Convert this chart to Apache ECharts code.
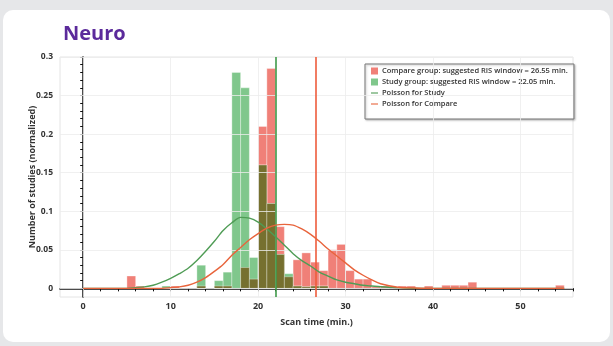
<!DOCTYPE html>
<html><head><meta charset="utf-8">
<script src="https://cdn.jsdelivr.net/npm/echarts@6/dist/echarts.min.js"></script>
<style>html,body{margin:0;padding:0;background:#e6e7e9}#c{width:613px;height:346px}</style>
</head><body><div id="c"></div>
<script>
// Histogram bins: left edge of each 1-minute bin
const binLeft = [0,1,2,3,4,5,6,7,8,9,10,11,12,13,14,15,16,17,18,19,20,21,22,23,24,25,26,27,28,29,30,31,32,33,34,35,36,37,38,39,40,41,42,43,44,45,46,47,48,49,50,51,52,53,54,55];
const compareValues = [0,0,0,0,0,0.016,0.003,0,0,0,0.003,0,0,0.003,0,0.003,0.003,0,0.027,0.012,0.21,0.285,0.08,0.015,0.037,0.046,0.034,0.023,0.05,0.057,0.023,0.012,0.012,0.002,0.003,0,0.003,0.003,0,0.003,0,0.004,0.004,0.004,0.008,0,0,0,0,0,0,0,0,0,0.004,0];
const studyValues   = [0,0,0,0,0,0,0,0,0,0.003,0,0,0,0.03,0,0.01,0.021,0.28,0.26,0.04,0.16,0.11,0.044,0.019,0.003,0.002,0.003,0.003,0,0,0,0,0,0,0,0,0,0,0,0,0,0,0,0,0,0,0,0,0,0,0,0,0,0,0,0];
// Fitted curves
const curveX        = [0,2,4,5,6,7,8,9,10,11,12,13,14,15,16,17,18,19,20,21,22,23,24,25,26,27,28,29,30,31,32,33,34,36,38,40,45,50,55];
const studyCurve    = [0,0,0,0,0.001,0.002,0.004,0.008,0.013,0.019,0.026,0.036,0.048,0.061,0.075,0.085,0.092,0.091,0.086,0.077,0.067,0.056,0.045,0.036,0.029,0.021,0.016,0.011,0.008,0.006,0.004,0.003,0.002,0.001,0,0,0,0,0];
const compareCurve  = [0,0,0,0,0,0,0,0,0.001,0.002,0.004,0.008,0.014,0.022,0.031,0.043,0.053,0.063,0.071,0.078,0.082,0.083,0.082,0.077,0.07,0.061,0.051,0.042,0.033,0.024,0.017,0.011,0.006,0.0015,0.0005,0,0,0,0];
const studyWindow = 22.05;
const compareWindow = 26.55;
const xLabels = [0,10,20,30,40,50];
const yLabels = [0,0.05,0.1,0.15,0.2,0.25,0.3];
const binWidth = 1;

const xTicks = []; for (let v = 0; v <= 56; v += 2) xTicks.push(v);
const yTicks = []; for (let i = 0; i <= 30; i++) yTicks.push(+(i*0.01).toFixed(2));

const redBar = '#f08078', greenBar = '#80c78c', olive = '#76702f';
const font = 'Open Sans';
const lineIcon = 'path://M0,0L14,0L14,2.2L0,2.2Z';

function mk(vals){ const d=[]; vals.forEach((v,i)=>{ if(v>0) d.push([binLeft[i], v]); }); return d; }
const overlap = mk(binLeft.map((b,i)=>Math.min(studyValues[i], compareValues[i])));

function barRender(params, api){
  const x0 = api.value(0), h = api.value(1);
  const p0 = api.coord([x0, 0]);
  const p1 = api.coord([x0 + binWidth, h]);
  return {type:'rect', shape:{x:p0[0], y:p1[1], width:p1[0]-p0[0], height:p0[1]-p1[1]},
    style: api.style({stroke:'rgba(255,255,255,0.55)', lineWidth:0.6})};
}

const chart = echarts.init(document.getElementById('c'), null, {renderer:'canvas'});
chart.setOption({
  backgroundColor:'#e6e7e9',
  animation:false,
  graphic:[{type:'rect', z:-100, shape:{x:3,y:10,width:607,height:332,r:10}, style:{fill:'#ffffff'}}],
  title:{text:'Neuro', left:58, top:19, textStyle:{color:'#5b2a9b', fontSize:20, fontWeight:'bold', fontFamily:font}},
  grid:{left:60, right:40, top:57, bottom:49, show:true, borderColor:'#e4e4e4', borderWidth:1, backgroundColor:'transparent'},
  legend:{
    orient:'vertical', left:365, top:64, padding:[3,6,11,6], itemGap:3,
    itemWidth:7, itemHeight:7, symbolKeepAspect:true,
    borderColor:'#777', borderWidth:1, backgroundColor:'#fff',
    shadowColor:'rgba(0,0,0,0.25)', shadowBlur:2, shadowOffsetX:1, shadowOffsetY:1,
    textStyle:{fontSize:7.5, fontWeight:600, color:'#333', fontFamily:font, padding:[0,0,0,-1]},
    data:[
      {name:'Compare group: suggested RIS window = 26.55 min.', icon:'rect'},
      {name:'Study group: suggested RIS window = 22.05 min.', icon:'rect'},
      {name:'Poisson for Study', icon:lineIcon},
      {name:'Poisson for Compare', icon:lineIcon}
    ]
  },
  xAxis:{
    type:'value', min:-2.65, max:56,
    name:'Scan time (min.)', nameLocation:'middle', nameGap:21, nameMoveOverlap:false,
    nameTextStyle:{fontSize:9, fontWeight:'bold', color:'#333', fontFamily:font},
    axisLine:{lineStyle:{color:'#111', width:1.5}},
    axisTick:{customValues:xTicks, length:3, lineStyle:{color:'#111', width:1}},
    axisLabel:{customValues:xLabels, margin:5, fontSize:9, fontWeight:'bold', color:'#333', fontFamily:font},
    splitLine:{show:false}
  },
  yAxis:{
    type:'value', min:-0.0112, max:0.3,
    name:'Number of studies (normalized)', nameLocation:'middle', nameGap:23, nameMoveOverlap:false,
    nameTextStyle:{fontSize:9, fontWeight:'bold', color:'#333', fontFamily:font},
    axisLine:{show:true, lineStyle:{color:'#111', width:1.5}},
    axisTick:{show:true, customValues:yTicks, length:3, lineStyle:{color:'#111', width:1}},
    axisLabel:{customValues:yLabels, margin:7, fontSize:8.5, fontWeight:'bold', color:'#333', fontFamily:font,
      formatter:v=>String(+v.toFixed(2))},
    splitLine:{show:false}
  },
  series:[
    {type:'line', name:'grid', data:[], silent:true, z:1,
      markLine:{silent:true, symbol:'none', label:{show:false},
        lineStyle:{color:'#ececec', width:0.8, type:'solid'},
        data: yLabels.map(v=>({yAxis:v})).concat(xLabels.map(v=>({xAxis:v})))}},
    {type:'custom', name:'Compare group: suggested RIS window = 26.55 min.', renderItem:barRender,
      itemStyle:{color:redBar}, encode:{x:0,y:1}, data:mk(compareValues), z:2},
    {type:'custom', name:'Study group: suggested RIS window = 22.05 min.', renderItem:barRender,
      itemStyle:{color:greenBar}, encode:{x:0,y:1}, data:mk(studyValues), z:3},
    {type:'custom', name:'overlap', renderItem:barRender,
      itemStyle:{color:olive}, encode:{x:0,y:1}, data:overlap, z:4},
    {type:'line', name:'Poisson for Study', data:curveX.map((x,i)=>[x, studyCurve[i]]), smooth:0.3,
      symbol:'none', showSymbol:false, lineStyle:{color:'#4f9c55', width:1.4}, itemStyle:{color:'#4f9c55'}, z:5,
      markLine:{silent:true, symbol:'none', label:{show:false}, lineStyle:{color:'#3f9a4a', width:1.6, type:'solid'},
        data:[{xAxis:studyWindow}]}},
    {type:'line', name:'Poisson for Compare', data:curveX.map((x,i)=>[x, compareCurve[i]]), smooth:0.3,
      symbol:'none', showSymbol:false, lineStyle:{color:'#e8643c', width:1.4}, itemStyle:{color:'#e8643c'}, z:6,
      markLine:{silent:true, symbol:'none', label:{show:false}, lineStyle:{color:'#ee5c3c', width:1.6, type:'solid'},
        data:[{xAxis:compareWindow}]}}
  ]
});
</script></body></html>
